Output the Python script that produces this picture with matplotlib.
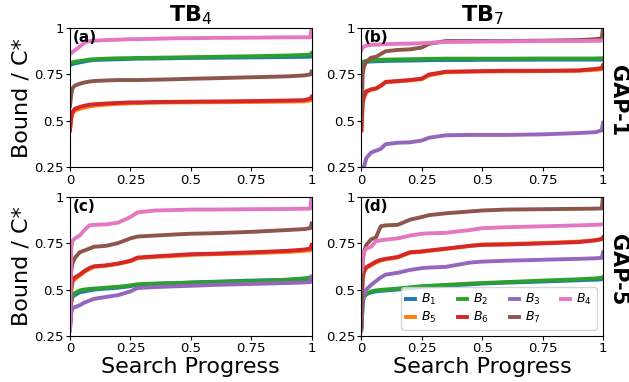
import matplotlib
matplotlib.use("Agg")
import matplotlib.pyplot as plt

# common progress knots
X = [0, 0.005, 0.01, 0.02, 0.04, 0.06, 0.08, 0.1, 0.15, 0.2, 0.25, 0.28, 0.35, 0.45, 0.5, 0.6, 0.75, 0.9, 0.97, 0.995, 1.0]

labels = ["$B_1$", "$B_5$", "$B_2$", "$B_6$", "$B_3$", "$B_7$", "$B_4$"]
col_titles = ["TB$_4$", "TB$_7$"]
row_titles = ["GAP-1", "GAP-5"]
panel_tags = ["(a)", "(b)", "(c)", "(d)"]
yticks = [0.25, 0.5, 0.75, 1.0]
ytick_labels = ["0.25", "0.5", "0.75", "1"]
xticks = [0, 0.25, 0.5, 0.75, 1.0]
xtick_labels = ["0", "0.25", "0.5", "0.75", "1"]

# panel (a): TB4, GAP-1
a_B1 = [0.80,0.803,0.806,0.81,0.815,0.82,0.825,0.828,0.83,0.832,0.834,0.835,0.836,0.838,0.839,0.84,0.842,0.844,0.845,0.846,0.848]
a_B5 = [0.45,0.51,0.54,0.555,0.565,0.572,0.578,0.582,0.588,0.592,0.595,0.596,0.598,0.6,0.6,0.601,0.602,0.604,0.606,0.61,0.615]
a_B2 = [0.81,0.812,0.815,0.818,0.822,0.826,0.83,0.832,0.835,0.837,0.838,0.839,0.84,0.842,0.843,0.845,0.848,0.852,0.855,0.856,0.865]
a_B6 = [0.45,0.52,0.55,0.565,0.575,0.582,0.587,0.59,0.594,0.597,0.6,0.6,0.602,0.603,0.604,0.605,0.607,0.61,0.612,0.62,0.63]
a_B3 = [0.10,0.12,0.13,0.14,0.15,0.15,0.16,0.16,0.17,0.17,0.18,0.18,0.18,0.19,0.19,0.19,0.19,0.20,0.20,0.20,0.21]
a_B7 = [0.58,0.64,0.675,0.69,0.70,0.707,0.712,0.715,0.718,0.72,0.72,0.72,0.722,0.725,0.727,0.73,0.735,0.74,0.745,0.75,0.765]
a_B4 = [0.86,0.865,0.87,0.88,0.9,0.92,0.93,0.932,0.935,0.937,0.94,0.94,0.942,0.945,0.945,0.947,0.948,0.95,0.95,0.95,1.0]

# panel (b): TB7, GAP-1
b_B1 = [0.81,0.815,0.817,0.818,0.82,0.821,0.822,0.823,0.824,0.825,0.826,0.827,0.828,0.828,0.829,0.829,0.83,0.83,0.83,0.83,0.83]
b_B5 = [0.45,0.59,0.625,0.655,0.668,0.673,0.688,0.708,0.713,0.718,0.725,0.745,0.762,0.765,0.766,0.767,0.768,0.77,0.775,0.778,0.785]
b_B2 = [0.80,0.815,0.82,0.822,0.825,0.827,0.829,0.83,0.831,0.832,0.833,0.834,0.835,0.835,0.835,0.835,0.836,0.836,0.836,0.837,0.838]
b_B6 = [0.45,0.6,0.63,0.66,0.67,0.675,0.69,0.71,0.715,0.72,0.728,0.75,0.765,0.767,0.768,0.77,0.77,0.772,0.78,0.785,0.80]
b_B3 = [0.2,0.22,0.25,0.3,0.33,0.34,0.35,0.375,0.383,0.385,0.395,0.41,0.423,0.425,0.425,0.425,0.428,0.435,0.44,0.45,0.49]
b_B7 = [0.5,0.75,0.79,0.82,0.84,0.845,0.86,0.875,0.882,0.885,0.895,0.915,0.93,0.93,0.93,0.93,0.932,0.935,0.94,0.945,1.0]
b_B4 = [0.88,0.895,0.9,0.905,0.91,0.91,0.912,0.913,0.915,0.916,0.918,0.92,0.925,0.926,0.927,0.928,0.93,0.93,0.931,0.932,0.935]

# panel (c): TB4, GAP-5
c_B1 = [0.3,0.43,0.46,0.47,0.485,0.49,0.495,0.5,0.505,0.51,0.518,0.525,0.53,0.535,0.538,0.542,0.548,0.552,0.555,0.557,0.56]
c_B5 = [0.29,0.49,0.54,0.555,0.575,0.595,0.61,0.622,0.628,0.638,0.652,0.668,0.675,0.682,0.686,0.69,0.695,0.702,0.708,0.71,0.715]
c_B2 = [0.3,0.44,0.47,0.48,0.495,0.5,0.503,0.505,0.51,0.515,0.522,0.528,0.532,0.535,0.536,0.54,0.545,0.553,0.56,0.565,0.565]
c_B6 = [0.29,0.5,0.55,0.565,0.58,0.6,0.615,0.625,0.63,0.64,0.655,0.672,0.678,0.686,0.69,0.693,0.7,0.708,0.715,0.72,0.74]
c_B3 = [0.28,0.37,0.4,0.405,0.415,0.43,0.44,0.45,0.46,0.47,0.49,0.508,0.513,0.518,0.52,0.525,0.53,0.535,0.538,0.54,0.57]
c_B7 = [0.38,0.6,0.64,0.67,0.7,0.71,0.72,0.73,0.735,0.75,0.775,0.785,0.79,0.797,0.8,0.803,0.81,0.82,0.825,0.83,0.855]
c_B4 = [0.29,0.72,0.76,0.775,0.79,0.82,0.845,0.848,0.85,0.86,0.89,0.915,0.925,0.928,0.93,0.93,0.932,0.933,0.935,0.935,1.0]

# panel (d): TB7, GAP-5
d_B1 = [0.3,0.43,0.46,0.475,0.485,0.49,0.493,0.495,0.5,0.507,0.513,0.516,0.52,0.528,0.532,0.537,0.543,0.55,0.553,0.555,0.558]
d_B5 = [0.4,0.55,0.59,0.615,0.63,0.645,0.656,0.662,0.672,0.698,0.703,0.708,0.718,0.735,0.742,0.745,0.75,0.758,0.765,0.77,0.775]
d_B2 = [0.3,0.43,0.46,0.475,0.49,0.495,0.498,0.5,0.505,0.512,0.518,0.52,0.525,0.532,0.535,0.54,0.548,0.555,0.56,0.563,0.568]
d_B6 = [0.4,0.56,0.6,0.62,0.635,0.65,0.66,0.665,0.675,0.7,0.705,0.71,0.72,0.735,0.74,0.742,0.748,0.755,0.765,0.772,0.78]
d_B3 = [0.28,0.42,0.47,0.5,0.525,0.545,0.565,0.58,0.59,0.605,0.615,0.618,0.622,0.645,0.65,0.655,0.66,0.665,0.668,0.67,0.70]
d_B7 = [0.3,0.65,0.7,0.74,0.77,0.78,0.84,0.845,0.848,0.875,0.89,0.9,0.91,0.92,0.925,0.93,0.932,0.934,0.935,0.936,1.0]
d_B4 = [0.6,0.66,0.7,0.72,0.73,0.76,0.765,0.768,0.775,0.79,0.8,0.802,0.805,0.82,0.83,0.835,0.84,0.845,0.848,0.85,0.852]

panels = [
    [a_B1, a_B5, a_B2, a_B6, a_B3, a_B7, a_B4],
    [b_B1, b_B5, b_B2, b_B6, b_B3, b_B7, b_B4],
    [c_B1, c_B5, c_B2, c_B6, c_B3, c_B7, c_B4],
    [d_B1, d_B5, d_B2, d_B6, d_B3, d_B7, d_B4],
]
colors = ["#1f77b4", "#ff7f0e", "#2ca02c", "#d62728", "#9467bd", "#8c564b", "#e377c2"]

W, H = 629, 382
fig, axes = plt.subplots(2, 2, figsize=(W / 100, H / 100), dpi=100)
fig.subplots_adjust(left=70 / W, right=603 / W, top=1 - 28 / H, bottom=1 - 336 / H,
                    wspace=50 / 242, hspace=29 / 139)

for i, ax in enumerate(axes.flat):
    for series, lab, c in zip(panels[i], labels, colors):
        ax.plot(X, series, color=c, lw=2.8, label=lab)
    ax.set_xlim(0, 1)
    ax.set_ylim(0.25, 1)
    ax.set_yticks(yticks)
    ax.set_yticklabels(ytick_labels)
    ax.set_xticks(xticks)
    ax.set_xticklabels(xtick_labels)
    ax.tick_params(labelsize=9.5, length=3, pad=1.5)
    ax.text(0.01, 0.985, panel_tags[i], transform=ax.transAxes, ha="left", va="top",
            fontsize=11, fontweight="bold")
    r, cidx = divmod(i, 2)
    if r == 0:
        ax.set_title(col_titles[cidx], fontsize=16, fontweight="bold", pad=5)
    if cidx == 0:
        ax.set_ylabel("Bound / C*", fontsize=16, labelpad=2)
    if r == 1:
        ax.set_xlabel("Search Progress", fontsize=16, labelpad=1)

# row labels at right edge
for r, ax in enumerate(axes[:, 1]):
    bb = ax.get_position()
    fig.text(628 / W, (bb.y0 + bb.y1) / 2 - 3 / H, row_titles[r], rotation=-90,
             ha="right", va="center", fontsize=15, fontweight="bold")

axes[1, 1].legend(loc="lower right", ncol=4, fontsize=9, handlelength=0.72,
                  handletextpad=0.48, columnspacing=1.7, borderpad=0.4,
                  labelspacing=0.2, borderaxespad=0,
                  bbox_to_anchor=(1 - 6 / 241, 6 / 139))

fig.savefig("out.png", dpi=100)
